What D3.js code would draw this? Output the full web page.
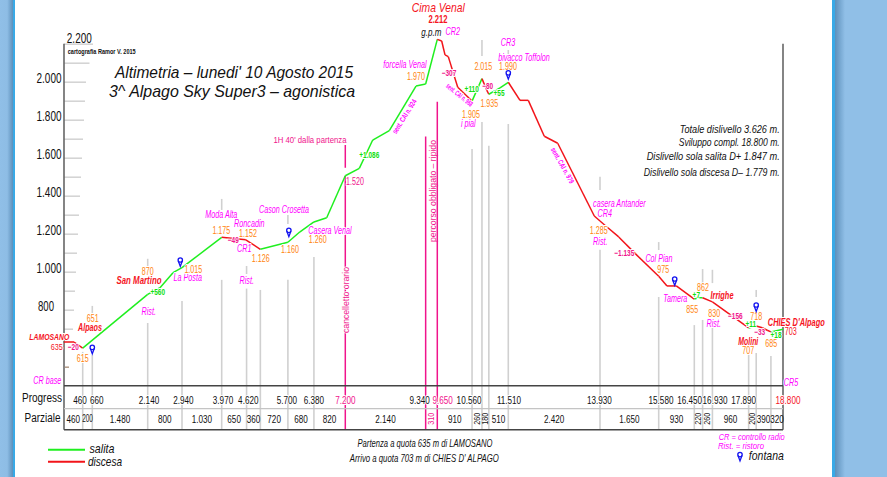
<!DOCTYPE html>
<html>
<head>
<meta charset="utf-8">
<script src="https://cdn.jsdelivr.net/npm/d3@7"></script>
<style>
  html, body { margin: 0; padding: 0; background: #fff; overflow: hidden; }
  text { font-family: "Liberation Sans", sans-serif; }
</style>
</head>
<body>
<div id="my_dataviz"></div>
<script>
// profile: progressive distance (m) and elevation (m)
var profileKm = [0, 246, 460, 2140, 2427, 2730, 2940, 3970, 4600, 4980, 5700, 6016, 6380, 6714, 7200, 7573, 7930, 8372, 9083, 9340, 9650,
  9765, 9852, 9938, 10185, 10560, 10820, 10944, 11000, 11293, 11510, 11819, 12038, 12460, 12814, 13780, 13930, 14127, 14456, 14922, 15580,
  15783, 16010, 16450, 16567, 16670, 16930, 17890, 18090, 18249, 18382, 18480, 18800];
var profileEle = [630, 630, 598, 881, 916, 995, 1021, 1181, 1168, 1118, 1155, 1210, 1262, 1284, 1505, 1544, 1693, 1742, 1977, 1988, 2223,
  2214, 2141, 2132, 1971, 1898, 2016, 1956, 1934, 1967, 1997, 1902, 1902, 1713, 1676, 1293, 1267, 1235, 1183, 1095, 976,
  925, 925, 856, 863, 863, 841, 704, 714, 705, 692, 683, 697];
// stretches drawn as "salita", everything else is "discesa"
var climbStart = [460, 4980, 10560, 11000, 16450, 17890, 18480];
var climbEnd = [3970, 9650, 10820, 11510, 16670, 18090, 18800];

// bottom table
var progressKm = [460, 660, 2140, 2940, 3970, 4620, 5700, 6380, 7200, 9340, 9650, 10560, 11510, 13930, 15580, 16450, 16930, 17890, 18800];
var progressLabels = ["460", "660", "2.140", "2.940", "3.970", "4.620", "5.700", "6.380", "7.200", "9.340", "9.650", "10.560", "11.510", "13.930", "15.580", "16.450", "16.930", "17.890", "18.800"];
var partialStart = [0, 460, 660, 2140, 2940, 3970, 4620, 4980, 5700, 6380, 7200, 9340, 9650, 10560, 10820, 11000, 11510, 13930, 15580, 16450, 16670, 16930, 17890, 18090, 18480];
var partialEnd = [460, 660, 2140, 2940, 3970, 4620, 4980, 5700, 6380, 7200, 9340, 9650, 10560, 10820, 11000, 11510, 13930, 15580, 16450, 16670, 16930, 17890, 18090, 18480, 18800];
var partialLabels = ["460", "200", "1.480", "800", "1.030", "650", "360", "720", "680", "820", "2.140", "310", "910", "260", "180", "510", "2.420", "1.650", "930", "220", "260", "960", "200", "390", "320"];

// vertical reference lines: distance and elevation of their upper end
var dropKm = [460, 660, 2140, 2940, 3970, 4620, 4980, 5700, 6380, 10560, 10820, 11000, 11510, 13930, 15580, 16450, 16670, 16930, 17890, 18090, 18480];
var dropTop = [578, 562, 730, 846, 957, 911, 904, 958, 1077, 1646, 1788, 1663, 1777, 1116, 867, 719, 746, 746, 562, 572, 556];
var stubKm = [660, 2140, 3970, 4620, 5700, 10820, 11510, 13930, 15580, 16670, 16930, 18090];
var stubTop = [820, 1068, 1383, 1030, 1298, 2219, 2167, 1500, 1156, 1014, 1010, 904];
var stubBottom = [783, 1030, 1325, 988, 1251, 2135, 2141, 1430, 1114, 940, 940, 867];
var pinkKm = [7200, 9340, 9650];
var pinkTop = [1505, 1711, 1895];

// y axis
var tickValues = [2200, 2100, 2000, 1900, 1800, 1700, 1600, 1500, 1400, 1300, 1200, 1100, 1000, 900, 800, 700, 500];
var tickLabels = { 2000: "2.000", 1800: "1.800", 1600: "1.600", 1400: "1.400", 1200: "1.200", 1000: "1.000", 800: "800" };

// fountains
var fountainKm = [660, 2900, 5725, 11510, 15971, 18090];
var fountainEle = [568, 1028, 1184, 2013, 928, 791];

// set the dimensions of the page and of the graph
var width = 887, height = 477;
var left = 64, right = 783, tableMid = 408.7, tableBottom = 429.7;

var svg = d3.select("#my_dataviz")
  .append("svg")
    .attr("width", width)
    .attr("height", height)
    .style("display", "block");

// blue page borders
var defs = svg.append("defs");
var gl = defs.append("linearGradient").attr("id", "bandL");
gl.append("stop").attr("offset", "0%").attr("stop-color", "#90bfe7");
gl.append("stop").attr("offset", "55%").attr("stop-color", "#8ebde5");
gl.append("stop").attr("offset", "100%").attr("stop-color", "#5d90bb");
var gr = defs.append("linearGradient").attr("id", "bandR");
gr.append("stop").attr("offset", "0%").attr("stop-color", "#5d90bb");
gr.append("stop").attr("offset", "100%").attr("stop-color", "#90bfe7");

svg.append("rect").attr("x", 0).attr("y", 0).attr("width", 13).attr("height", height).attr("fill", "url(#bandL)");
svg.append("rect").attr("x", 13).attr("y", 0).attr("width", 2).attr("height", height).attr("fill", "#39a9e6");
svg.append("rect").attr("x", 832).attr("y", 0).attr("width", 3).attr("height", height).attr("fill", "#39a9e6");
svg.append("rect").attr("x", 835).attr("y", 0).attr("width", 10).attr("height", height).attr("fill", "url(#bandR)");
svg.append("rect").attr("x", 845).attr("y", 0).attr("width", 42).attr("height", height).attr("fill", "#90bfe7");

// the distance scale of the drawing is not quite uniform, so it is piecewise
var x = d3.scaleLinear()
  .domain([0, 460, 660, 2140, 2940, 3970, 7200, 9650, 11510, 13930, 15580, 16450, 18800])
  .range([left, 82.7, 92.3, 147.7, 182, 221.7, 345.3, 437.3, 508.3, 600, 658.7, 694.3, right]);

var y = d3.scaleLinear()
  .domain([400, 2200])
  .range([385.7, 43.7]);

// tick length grows a bit towards the top
var tickLen = d3.scaleLinear().domain([500, 2000, 2200]).range([7, 22, 29]);

var yAxis = svg.append("g")
  .attr("transform", "translate(" + left + ",0)")
  .call(d3.axisLeft(y).tickValues(tickValues).tickFormat(function(d) { return tickLabels[d] || ""; }));
yAxis.select(".domain").remove();
yAxis.selectAll(".tick line")
  .attr("x1", function(d) { return d == 500 ? 1 : 0; })
  .attr("x2", function(d) { return d == 500 ? 5 : tickLen(d); })
  .attr("stroke", function(d) { return d == 500 ? "#b39a86" : "#d2d2d2"; })
  .attr("stroke-width", 1.5);
yAxis.selectAll(".tick text")
  .attr("x", function(d) { return d == 800 ? -10 : -2.5; })
  .attr("dy", "0.07em")
  .attr("fill", "#111")
  .attr("textLength", function(d) { return d == 800 ? 16 : 25; })
  .attr("lengthAdjust", "spacingAndGlyphs")
  .style("font-size", "15px");

// grey verticals
var lines = svg.append("g").attr("stroke", "#d0d0d0").attr("stroke-width", 1.6);
lines.selectAll(".drop").data(dropKm).enter().append("line")
  .attr("x1", function(d) { return x(d); })
  .attr("x2", function(d) { return x(d); })
  .attr("y1", function(d, i) { return y(dropTop[i]); })
  .attr("y2", tableBottom);
lines.selectAll(".stub").data(stubKm).enter().append("line")
  .attr("x1", function(d) { return x(d); })
  .attr("x2", function(d) { return x(d); })
  .attr("y1", function(d, i) { return y(stubTop[i]); })
  .attr("y2", function(d, i) { return y(stubBottom[i]); });

// pink verticals
var pink = svg.append("g").attr("stroke", "#f0148c").attr("stroke-width", 1.5);
pink.selectAll(".p").data(pinkKm).enter().append("line")
  .attr("x1", function(d) { return x(d); })
  .attr("x2", function(d) { return x(d); })
  .attr("y1", function(d, i) { return y(pinkTop[i]); })
  .attr("y2", tableBottom);
pink.append("line")
  .attr("x1", x(7200)).attr("x2", x(7200))
  .attr("y1", y(1667)).attr("y2", y(1547));

// frame and table
svg.append("line").attr("x1", left).attr("x2", left).attr("y1", y(2200)).attr("y2", tableBottom).attr("stroke", "#666").attr("stroke-width", 1.6);
svg.append("line").attr("x1", right).attr("x2", right).attr("y1", y(2200)).attr("y2", tableBottom).attr("stroke", "#666").attr("stroke-width", 1.6);
svg.append("line").attr("x1", left).attr("x2", right).attr("y1", y(400)).attr("y2", y(400)).attr("stroke", "#444").attr("stroke-width", 1.6);
svg.append("line").attr("x1", left).attr("x2", right).attr("y1", tableMid).attr("y2", tableMid).attr("stroke", "#c4c4c4").attr("stroke-width", 1.2);
svg.append("line").attr("x1", left).attr("x2", right).attr("y1", tableBottom).attr("y2", tableBottom).attr("stroke", "#444").attr("stroke-width", 1.6);

// the profile, one segment at a time so each takes its own colour
var segments = d3.pairs(d3.range(profileKm.length));
function isClimb(a) {
  return climbStart.some(function(s, i) { return profileKm[a] >= s && profileKm[a] < climbEnd[i]; });
}
svg.append("g").attr("fill", "none").attr("stroke-width", 1.5).attr("stroke-linejoin", "round")
  .selectAll("path").data(segments).enter().append("path")
    .attr("stroke", function(d) { return isClimb(d[0]) ? "#1fef1f" : "#f2141a"; })
    .attr("d", function(d) {
      return d3.line()([[x(profileKm[d[0]]), y(profileEle[d[0]])], [x(profileKm[d[1]]), y(profileEle[d[1]])]]);
    });

// text helper: centred on (px, py), squeezed because the drawing uses a narrow CAD font.
// the white halo cuts the lines underneath like in the drawing
function note(str, px, py, color, size, opts) {
  opts = opts || {};
  var sx = opts.len ? 1 : (opts.sx || 0.68);
  var t = svg.append("text")
    .attr("text-anchor", opts.anchor || "middle")
    .attr("dominant-baseline", "central")
    .attr("transform", "translate(" + px + "," + py + ")" + (opts.rotate ? " rotate(" + opts.rotate + ")" : "") + " scale(" + sx + ",1)")
    .attr("fill", color)
    .style("font-size", size + "px")
    .style("font-style", opts.italic ? "italic" : "normal")
    .style("font-weight", opts.bold ? "bold" : "normal")
    .text(str);
  if (opts.len) t.attr("textLength", opts.len).attr("lengthAdjust", "spacingAndGlyphs");
  if (opts.halo !== false) {
    t.attr("stroke", "#fff").attr("stroke-width", 2).attr("paint-order", "stroke");
  }
  return t;
}

var orange = "#ff8410", magenta = "#ff00ff", crimson = "#f0148c", red = "#f5141e", green = "#10e010", black = "#111";

// table labels
var nudge = [-2.7, 4.4, 1.3, 1.3, 1.3, 1.7, -1, 0, 0, -6, 5.4, -3, 0.7, -0.7, 2.3, -4.6, 2.6, -5, 5];
progressKm.forEach(function(km, i) {
  var c = km == 7200 || km == 9650 ? crimson : km == 18800 ? red : black;
  note(progressLabels[i], x(km) + nudge[i], 399.7, c, 11, { sx: 0.74 });
});
var verticalPartial = [11, 13, 14, 19, 20, 22];
partialLabels.forEach(function(l, i) {
  var mid = (x(partialStart[i]) + x(partialEnd[i])) / 2;
  var vert = verticalPartial.indexOf(i) >= 0;
  note(l, mid, 418.7, i == 11 ? crimson : black, vert ? 9 : 11, { rotate: vert ? -90 : 0, halo: false, sx: vert ? 0.8 : (i == 1 ? 0.58 : 0.74) });
});
note("Progress", 42, 397.5, black, 12.5, { len: 40, halo: false });
note("Parziale", 42.5, 418, black, 12.5, { len: 36, halo: false });

// top left
note("2.200", 79.3, 37.7, black, 15, { len: 25, halo: false });
note("cartografia Ramor V. 2015", 101.7, 51, black, 6.5, { bold: true, len: 68, halo: false });
note("Altimetria – lunedi' 10 Agosto 2015", 234, 72, black, 17, { italic: true, len: 238, halo: false });
note("3^   Alpago Sky Super3 – agonistica", 232, 91, black, 17, { italic: true, len: 246, halo: false });

// totals
note("Totale dislivello   3.626 m.", 779.7, 128.7, black, 11.5, { italic: true, anchor: "end", len: 100, halo: false });
note("Sviluppo compl. 18.800 m.", 779.7, 142, black, 11.5, { italic: true, anchor: "end", len: 101, halo: false });
note("Dislivello sola salita D+   1.847 m.", 779.7, 156, black, 11.5, { italic: true, anchor: "end", len: 133, halo: false });
note("Dislivello sola discesa D–  1.779 m.", 779.7, 172, black, 11.5, { italic: true, anchor: "end", len: 136, halo: false });

// footer
note("Partenza a quota 635 m di LAMOSANO", 425, 443, black, 11, { italic: true, len: 135, halo: false });
note("Arrivo a quota 703 m di CHIES D' ALPAGO", 424.3, 458, black, 11, { italic: true, len: 149, halo: false });
note("CR = controllo radio", 751.7, 437, magenta, 8.5, { italic: true, len: 66, halo: false });
note("Rist. = ristoro", 741, 446.3, magenta, 8.5, { italic: true, len: 46, halo: false });
note("fontana", 766.3, 455.3, black, 13, { italic: true, len: 35, halo: false });

// legend
svg.append("line").attr("x1", 48).attr("x2", 85).attr("y1", 449.7).attr("y2", 449.7).attr("stroke", "#1fef1f").attr("stroke-width", 2);
svg.append("line").attr("x1", 48).attr("x2", 85).attr("y1", 461.7).attr("y2", 461.7).attr("stroke", "#f2141a").attr("stroke-width", 2);
note("salita", 102, 448.7, black, 13, { italic: true, len: 25, halo: false });
note("discesa", 105, 461, black, 13, { italic: true, len: 34, halo: false });

// place names
[["CR base", 47.3, 381], ["Moda Alta", 221.3, 214.3], ["Roncadin", 249.3, 223.3], ["Cason Crosetta", 284, 209.7],
 ["La Posta", 187.7, 278], ["Rist.", 148.7, 311.3], ["Rist.", 246.7, 280.7], ["CR1", 244.3, 249], ["Casera Venal", 330, 230.3],
 ["forcella Venal", 405, 64.7], ["CR2", 452.7, 31.7], ["CR3", 508, 42.7], ["bivacco Toffolon", 524, 58], ["i  pial", 468.3, 124],
 ["casera Antander", 619.3, 203.3], ["CR4", 604.7, 213.3], ["Rist.", 600.3, 242], ["Col Pian", 659, 258.7], ["Tamera", 675.3, 298.3],
 ["Rist.", 713.7, 323.3], ["CR5", 791, 382.7]].forEach(function(d) {
  note(d[0], d[1], d[2], magenta, 10, { italic: true, sx: 0.72 });
});

// elevations at the stops
[["615", 82.7, 358.7], ["651", 92.7, 318], ["870", 147.7, 271.7], ["1.015", 193.3, 269.3], ["1.175", 221.3, 230],
 ["1.152", 248, 233], ["1.126", 260.7, 258.7], ["1.160", 290, 249.7], ["1.260", 317.7, 239], ["1.970", 416, 76.7],
 ["2.015", 483.3, 66.3], ["1.990", 508, 66.5], ["1.905", 471, 114.3], ["1.935", 489.3, 103.3], ["1.285", 598.7, 230.7],
 ["975", 663.3, 269.3], ["862", 703, 287], ["855", 692.3, 309.7], ["830", 714.3, 313], ["718", 756.3, 316.7],
 ["707", 748.3, 350], ["685", 771.3, 343]].forEach(function(d) {
  note(d[0], d[1], d[2], orange, 10.5);
});

// height differences
[["−20", 73.3, 347.3], ["−49", 233.3, 240.3], ["−307", 449, 73.3], ["−80", 487.7, 86], ["−1.135", 624.3, 253], ["−156", 735.3, 316.3], ["−33", 759.7, 332]].forEach(function(d) {
  note(d[0], d[1], d[2], crimson, 9, { sx: 0.72, bold: true });
});
[["+560", 157.7, 292], ["+1.086", 369.3, 155.3], ["+110", 471.7, 89.3], ["+55", 499, 93], ["+7", 696.3, 294.7], ["+11", 750.7, 323.7], ["+18", 776, 334.7]].forEach(function(d) {
  note(d[0], d[1], d[2], green, 9, { sx: 0.72, bold: true });
});

// trail numbers along the slope
note("sent. CAI n. 924", 404.5, 116.5, magenta, 7.5, { bold: true, rotate: -58, len: 39 });
note("sent. CAI n. 968", 459.5, 95, magenta, 7.5, { bold: true, rotate: 39, len: 32 });
note("sent. CAI n. 979", 562.5, 165.5, magenta, 7.5, { bold: true, rotate: 61, len: 40 });

// main places in red
note("LAMOSANO", 49.3, 336.7, red, 9.5, { italic: true, bold: true, len: 40 });
note("635", 56.7, 346.3, red, 9.5, { len: 12 });
note("Alpaos", 90, 327, red, 10, { italic: true, bold: true, len: 24 });
note("San Martino", 139, 280.3, red, 10, { italic: true, bold: true, len: 45 });
note("Cima Venal", 438.3, 7, red, 13, { italic: true, len: 53 });
note("2.212", 438, 18.7, red, 11, { bold: true, len: 19 });
note("Irrighe", 722, 294.7, red, 10.5, { italic: true, bold: true, len: 23 });
note("Molini", 748.3, 340.7, red, 10.5, { italic: true, bold: true, len: 20 });
note("CHIES D'Alpago", 796.3, 322, red, 10, { italic: true, bold: true, len: 57 });
note("703", 790.7, 331.3, red, 10.5, { len: 12 });
note("g.p.m", 431.3, 31.7, black, 11, { italic: true, len: 20 });

// pink notes
note("1H 40'   dalla partenza", 310, 140, crimson, 9, { len: 73 });
note("1.520", 355, 181.7, crimson, 10.5);
note("cancelletto orario", 345.3, 300, crimson, 9.5, { rotate: -90, len: 66 });
note("percorso obbligato – ripido", 432, 191, crimson, 9.5, { rotate: -90, len: 102, halo: false });

// fountains
function pin(px, tip) {
  var g = svg.append("g").attr("fill", "none").attr("stroke", "#1414f0").attr("stroke-width", 1.3);
  g.append("circle").attr("cx", px).attr("cy", tip - 6.4).attr("r", 2.2);
  g.append("path").attr("d", d3.line()([[px - 2, tip - 5.4], [px, tip], [px + 2, tip - 5.4]]));
}
fountainKm.forEach(function(km, i) { pin(x(km), y(fountainEle[i])); });
pin(740, 461);
</script>
</body>
</html>
